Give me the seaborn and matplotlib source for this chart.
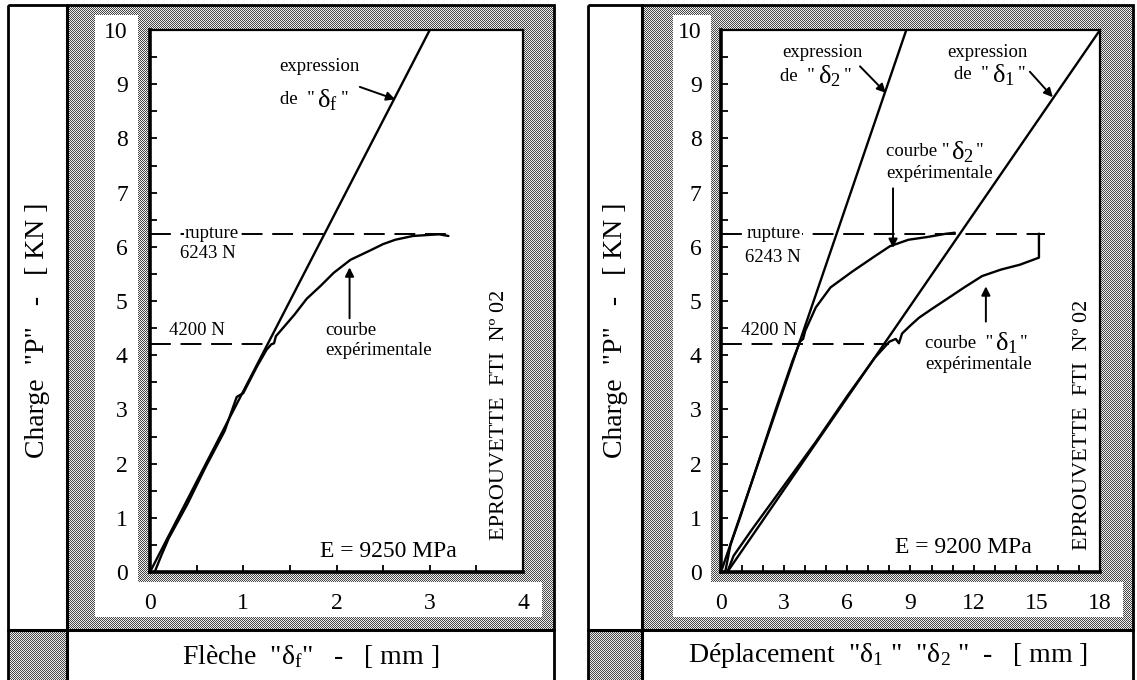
import numpy as np
import matplotlib
matplotlib.use("Agg")
import matplotlib.pyplot as plt
import seaborn as sns
from matplotlib.patches import Rectangle

# ---------------- data ----------------
# Left panel : Flèche delta_f (mm) / Charge P (kN)
fleche_theo_x = [0.0, 3.0]
fleche_theo_p = [0.0, 10.0]
fleche_exp_x = [0.05, 0.12, 0.2, 0.4, 0.6, 0.8, 0.93, 1.0, 1.15, 1.25, 1.3, 1.33, 1.35,
                1.4, 1.45, 1.55, 1.68, 1.83, 1.97, 2.15, 2.37, 2.5, 2.63, 2.82, 3.0, 3.1, 3.2]
fleche_exp_p = [0.0, 0.3, 0.62, 1.25, 1.95, 2.6, 3.23, 3.3, 3.8, 4.1, 4.2, 4.22, 4.35,
                4.45, 4.55, 4.75, 5.04, 5.28, 5.52, 5.76, 5.94, 6.05, 6.13, 6.2, 6.22, 6.23, 6.2]

# Right panel : Déplacement delta_1, delta_2 (mm) / Charge P (kN)
d2_theo_x = [0.0, 8.8]
d2_theo_p = [0.0, 10.0]
d1_theo_x = [0.3, 18.0]
d1_theo_p = [0.0, 10.0]
d2_exp_x = [0.2, 0.45, 0.9, 1.75, 2.6, 3.4, 3.75, 3.9, 4.0, 4.14, 4.5, 5.2, 6.26, 7.32,
            8.02, 8.9, 9.79, 10.67, 11.1]
d2_exp_p = [0.0, 0.5, 1.0, 2.0, 3.0, 3.9, 4.25, 4.3, 4.45, 4.57, 4.88, 5.25, 5.55, 5.83,
            6.01, 6.13, 6.18, 6.24, 6.26]
d1_exp_x = [0.3, 0.6, 1.5, 3.0, 4.5, 6.0, 7.3, 8.0, 8.3, 8.45, 8.6, 9.0, 9.4, 10.0, 10.7,
            11.55, 12.4, 13.3, 14.2, 15.1, 15.1]
d1_exp_p = [0.0, 0.3, 0.8, 1.6, 2.4, 3.25, 3.95, 4.25, 4.3, 4.22, 4.4, 4.55, 4.69, 4.85, 5.03,
            5.25, 5.46, 5.58, 5.67, 5.8, 6.243]

rupture_p = 6.243
seuil_p = 4.2
rupture_end = [3.2, 15.4]
seuil_end = [1.3, 8.0]

y_ticks = [0, 1, 2, 3, 4, 5, 6, 7, 8, 9, 10]
x_ticks_left = [0, 1, 2, 3, 4]
x_ticks_right = [0, 3, 6, 9, 12, 15, 18]

# ---------------- style ----------------
sns.set_theme(style="white")
plt.rcParams.update({
    "font.family": ["Liberation Serif", "DejaVu Serif"],
    "mathtext.fontset": "custom",
    "mathtext.rm": "Liberation Serif",
    "mathtext.it": "Liberation Serif:italic",
    "mathtext.bf": "Liberation Serif:bold",
    "axes.edgecolor": "black",
    "xtick.color": "black",
    "ytick.color": "black",
    "text.color": "black",
    "lines.scale_dashes": False,
})

W, H = 1137, 680
fig = plt.figure(figsize=(W / 100, H / 100), dpi=100)
fig.patch.set_facecolor("white")
renderer = fig.canvas.get_renderer()

# ---------------- background frame (pixel coordinates) ----------------
bg = fig.add_axes([0, 0, 1, 1])
bg.set_xlim(0, W)
bg.set_ylim(H, 0)
bg.axis("off")

yy, xx = np.mgrid[0:H, 0:W]
texture = np.where((xx + yy) % 2 == 0, 0.28, 0.93)
mask = np.zeros((H, W), dtype=bool)

panels = [
    dict(x0=8, x1=554, col=67, wl=95, wr=138, bandr=542, ax=(150, 523)),
    dict(x0=588, x1=1133, col=642, wl=673, wr=711, bandr=1123, ax=(721, 1100)),
]
top, boxtop, band_top, band_bot = 5, 630, 582, 617
for p in panels:
    mask[top:boxtop, p["col"]:p["x1"]] = True
    mask[15:band_bot, p["wl"]:p["wr"]] = False
    mask[band_top:band_bot, p["wl"]:p["bandr"]] = False
    mask[boxtop:H, p["x0"]:p["col"]] = True

img = np.where(mask, texture, 1.0)
bg.imshow(img, cmap="gray", vmin=0, vmax=1, extent=(0, W, H, 0),
          interpolation="nearest", aspect="auto", zorder=0)

for p in panels:
    bg.add_patch(Rectangle((p["x0"], top), p["x1"] - p["x0"], H + 10 - top,
                           fill=False, lw=2.0, ec="black", zorder=2))
    bg.plot([p["col"], p["col"]], [top, H + 5], color="black", lw=2.2, zorder=2)
    bg.plot([p["x0"], p["x1"]], [boxtop, boxtop], color="black", lw=2.2, zorder=2)

# axis titles in the white boxes
for p in panels:
    bg.text((p["x0"] + p["col"]) / 2, 330, 'Charge  "P"   -   [ KN ]', rotation=90,
            ha="center", va="center", fontsize=20, zorder=3)
bg.text((panels[0]["col"] + panels[0]["x1"]) / 2, 656,
        r'Flèche  "$\mathrm{\delta_f}$"   -   [ mm ]',
        ha="center", va="center", fontsize=20, zorder=3)
bg.text((panels[1]["col"] + panels[1]["x1"]) / 2, 656,
        r'Déplacement  "$\mathrm{\delta_1}$ "  "$\mathrm{\delta_2}$ "  -   [ mm ]',
        ha="center", va="center", fontsize=20, zorder=3)

# ---------------- the two plots ----------------
y_bot, y_top = 572, 30


def make_axes(xa, xb):
    return fig.add_axes([xa / W, 1 - y_bot / H, (xb - xa) / W, (y_bot - y_top) / H])


axL = make_axes(*panels[0]["ax"])
axR = make_axes(*panels[1]["ax"])

LW = 1.7
DASH = (0, (15, 7))


def curve(ax, x, y, **kw):
    sns.lineplot(x=x, y=y, ax=ax, color="black", lw=LW, sort=False,
                 estimator=None, legend=False, **kw)


# left
curve(axL, fleche_theo_x, fleche_theo_p)
curve(axL, fleche_exp_x, fleche_exp_p)
axL.plot([0, rupture_end[0]], [rupture_p, rupture_p], color="black", lw=1.4, ls=DASH)
axL.plot([0, seuil_end[0]], [seuil_p, seuil_p], color="black", lw=1.4, ls=DASH)

# right
curve(axR, d2_theo_x, d2_theo_p)
curve(axR, d1_theo_x, d1_theo_p)
curve(axR, d2_exp_x, d2_exp_p)
curve(axR, d1_exp_x, d1_exp_p)
axR.plot([0, rupture_end[1]], [rupture_p, rupture_p], color="black", lw=1.4, ls=DASH)
axR.plot([0, seuil_end[1]], [seuil_p, seuil_p], color="black", lw=1.4, ls=DASH)

for ax, xmax, xt, xminor, ypad in [(axL, 4, x_ticks_left, 0.5, 16),
                                   (axR, 18, x_ticks_right, 1, 14)]:
    ax.set_facecolor("white")
    ax.set_xlim(0, xmax)
    ax.set_ylim(0, 10)
    ax.set_xticks(xt)
    ax.set_xticklabels([str(v) for v in xt])
    ax.set_yticks(y_ticks)
    ax.set_yticklabels([str(v) for v in y_ticks])
    ax.set_xticks(np.arange(0, xmax + 0.01, xminor), minor=True)
    ax.set_yticks(np.arange(0, 10.01, 0.5), minor=True)
    ax.set_xlabel("")
    ax.set_ylabel("")
    ax.tick_params(which="both", direction="in", length=5, width=1.3,
                   top=False, right=False, left=True, bottom=True)
    ax.tick_params(axis="y", which="major", labelsize=17, pad=ypad)
    ax.tick_params(axis="x", which="major", labelsize=17, pad=15)
    for s in ("left", "bottom"):
        ax.spines[s].set_linewidth(2.6)
    for s in ("top", "right"):
        ax.spines[s].set_linewidth(1.6)
    for s in ax.spines.values():
        s.set_color("black")

FS = 13.5
FD = 19
white_box = dict(facecolor="white", edgecolor="none", pad=1.0)
arrow = dict(arrowstyle="-|>", color="black", lw=1.4, mutation_scale=13,
             shrinkA=0, shrinkB=0)


def chain(ax, x, y, parts, gap=3):
    """Write pieces of text one after another (each may have its own size)."""
    y_disp = ax.transData.transform((x, y))[1]
    cur_x = ax.transData.transform((x, y))[0]
    for s, fs in parts:
        pos = ax.transData.inverted().transform((cur_x, y_disp))
        t = ax.text(pos[0], pos[1], s, fontsize=fs, va="center", ha="left")
        cur_x = t.get_window_extent(renderer).x1 + gap


def delta(sym):
    return (r"$\mathrm{\delta_%s}$" % sym, FD)


# left annotations
axL.text(1.39, 9.32, "expression", fontsize=FS, va="center")
chain(axL, 1.39, 8.71, [('de  "', FS), delta("f"), ('"', FS)])
axL.annotate("", xy=(2.63, 8.72), xytext=(2.25, 8.95), arrowprops=arrow)
axL.text(0.375, rupture_p, "rupture", fontsize=FS, va="center", bbox=white_box)
axL.text(0.32, 5.88, "6243 N", fontsize=FS, va="center")
axL.text(0.20, 4.46, "4200 N", fontsize=FS, va="center")
axL.text(1.88, 4.46, "courbe", fontsize=FS, va="center")
axL.text(1.88, 4.08, "expérimentale", fontsize=FS, va="center")
axL.annotate("", xy=(2.14, 5.62), xytext=(2.14, 4.68), arrowprops=arrow)
axL.text(1.82, 0.38, "E = 9250 MPa", fontsize=17, va="center")
axL.text(3.75, 0.59, "EPROUVETTE  FTI  Nº 02", fontsize=16, rotation=90,
         ha="center", va="bottom")

# right annotations
axR.text(2.9, 9.59, "expression", fontsize=FS, va="center")
chain(axR, 2.8, 9.15, [('de  "', FS), delta("2"), ('"', FS)])
axR.annotate("", xy=(7.83, 8.84), xytext=(6.6, 9.33), arrowprops=arrow)
axR.text(10.73, 9.59, "expression", fontsize=FS, va="center")
chain(axR, 11.06, 9.17, [('de  "', FS), delta("1"), ('"', FS)])
axR.annotate("", xy=(15.76, 8.76), xytext=(14.67, 9.23), arrowprops=arrow)
chain(axR, 7.83, 7.75, [('courbe "', FS), delta("2"), ('"', FS)], gap=2)
axR.text(7.83, 7.36, "expérimentale", fontsize=FS, va="center")
axR.annotate("", xy=(8.17, 5.98), xytext=(8.17, 7.08), arrowprops=arrow)
axR.text(1.23, rupture_p, "rupture", fontsize=FS, va="center", bbox=white_box)
axR.text(1.14, 5.81, "6243 N", fontsize=FS, va="center")
axR.text(0.95, 4.46, "4200 N", fontsize=FS, va="center")
chain(axR, 9.69, 4.22, [('courbe  "', FS), delta("1"), ('"', FS)], gap=2)
axR.text(9.69, 3.82, "expérimentale", fontsize=FS, va="center")
axR.annotate("", xy=(12.58, 5.27), xytext=(12.58, 4.62), arrowprops=arrow)
axR.text(8.26, 0.46, "E = 9200 MPa", fontsize=17, va="center")
axR.text(17.19, 0.41, "EPROUVETTE  FTI  Nº 02", fontsize=16, rotation=90,
         ha="center", va="bottom")

fig.savefig("out.png", dpi=100, facecolor="white")
